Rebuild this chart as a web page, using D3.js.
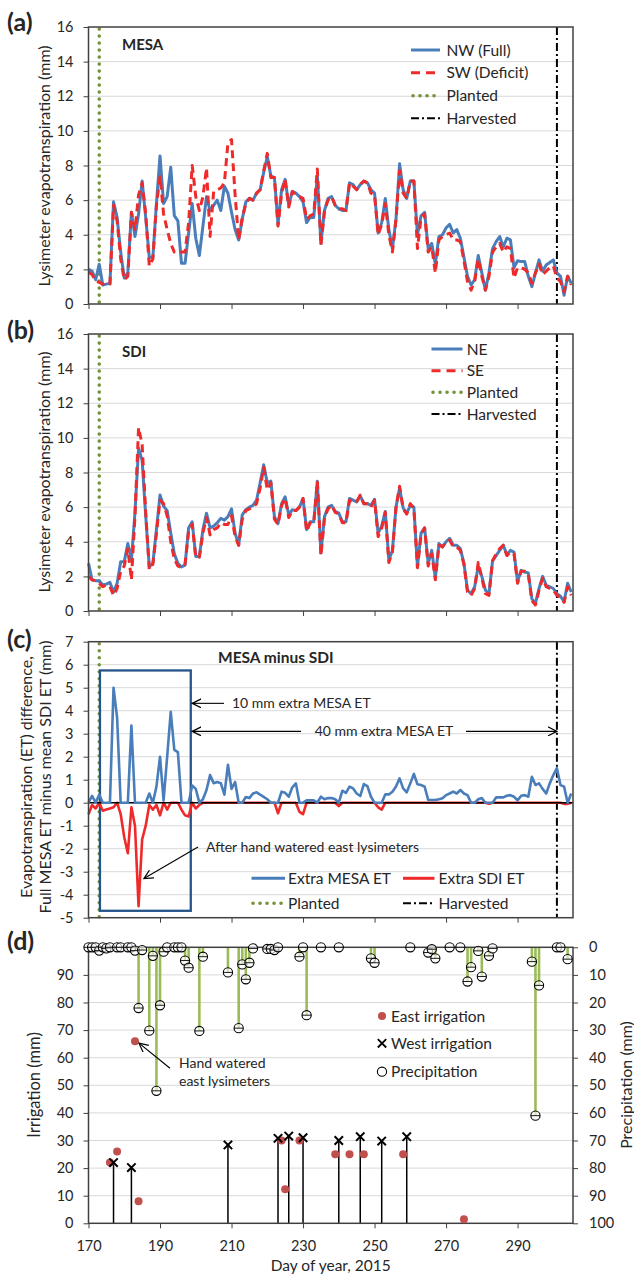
<!DOCTYPE html>
<html>
<head>
<meta charset="utf-8">
<script src="https://cdn.jsdelivr.net/npm/d3@7"></script>
<style>
  body { margin: 0; background: #fff; }
  svg text { font-family: Lato, "Open Sans", sans-serif; fill: #262626; }
</style>
</head>
<body>
<svg id="chart" width="634" height="1274"></svg>
<script>
// day of year, 2015 (one value per day)
const days = d3.range(170, 306);

// (a) MESA lysimeters
const nwFull = [2.0,1.9,1.4,2.3,1.1,1.15,1.2,5.9,5.0,3.0,1.5,1.8,5.3,3.9,5.2,7.1,5.0,2.7,2.7,5.8,
  8.55,5.8,6.2,7.9,5.1,4.8,2.35,2.35,4.1,5.8,3.8,2.8,4.5,6.2,5.4,5.7,6.0,5.4,6.8,6.4,
  5.3,4.3,3.7,4.9,5.9,6.1,6.0,6.4,6.6,7.6,8.5,7.4,7.3,4.6,6.6,7.2,5.7,6.5,6.4,6.2,
  5.9,4.7,5.0,5.0,7.4,3.5,5.4,6.1,6.2,5.7,5.5,5.4,5.4,7.0,6.9,6.6,6.9,7.1,7.0,6.6,
  6.4,4.1,4.7,6.1,4.3,3.2,4.9,8.1,6.6,6.1,7.1,7.1,4.0,5.1,5.3,3.2,3.5,2.3,3.9,4.0,
  4.4,4.6,4.1,4.3,3.8,2.7,1.6,1.1,1.4,2.8,1.8,0.8,1.8,3.2,3.6,3.9,3.3,3.8,3.7,2.1,
  2.5,2.45,2.45,1.6,1.0,1.8,2.55,1.9,2.25,2.4,2.55,1.8,1.6,0.5,1.6,1.2];
const swDeficit = [1.85,1.7,1.35,1.25,1.15,1.1,1.15,5.7,4.8,2.6,1.4,1.6,5.3,4.3,6.3,7.0,5.2,2.2,2.6,5.7,
  7.35,5.2,4.3,3.5,3.0,3.0,3.0,3.0,4.7,8.0,6.2,5.4,6.2,7.85,3.9,6.5,6.6,6.7,7.0,9.3,
  9.5,6.3,3.7,5.0,5.8,6.1,6.0,6.4,6.6,7.7,8.7,7.3,7.3,4.5,6.4,7.2,5.6,6.5,6.3,6.2,
  6.1,4.9,5.1,5.2,7.8,3.4,5.4,6.0,6.2,5.7,5.5,5.5,5.4,7.0,6.8,6.6,6.9,7.1,7.0,6.4,
  6.3,4.0,4.6,5.8,4.0,3.0,4.9,7.7,6.4,6.1,7.1,7.1,3.2,5.0,5.2,3.0,3.3,1.8,3.7,3.9,
  4.0,4.1,3.7,3.7,3.6,2.5,1.3,0.8,1.3,2.6,1.6,0.8,1.6,3.0,3.3,3.5,3.0,3.3,3.2,1.5,
  2.1,2.1,2.0,1.8,1.2,1.8,2.3,1.7,1.9,2.1,2.2,1.5,1.3,0.7,1.6,1.1];

// (b) SDI lysimeters
const neSdi = [2.75,1.8,1.75,1.75,1.5,1.55,1.65,1.1,1.6,2.85,2.85,3.9,2.95,5.7,9.4,8.7,5.5,2.55,2.75,4.7,
  6.7,6.05,5.8,4.5,3.3,2.75,2.55,2.65,4.8,5.15,3.15,3.15,4.7,5.65,4.8,4.9,5.1,5.35,5.25,5.45,
  5.9,4.5,3.8,5.55,5.85,6.0,6.1,6.4,7.4,8.45,7.4,7.5,5.45,5.05,6.2,6.6,5.55,5.85,5.8,6.0,
  6.5,4.7,5.15,5.15,7.5,3.35,5.45,6.0,6.1,5.75,5.65,5.15,5.15,6.5,6.4,6.3,6.65,6.2,6.2,6.1,
  6.45,4.5,4.9,5.75,2.95,3.5,6.0,7.1,5.95,5.65,6.1,6.0,2.55,4.5,4.8,2.75,3.5,1.9,3.9,3.7,
  4.0,4.2,3.8,3.8,3.6,2.75,1.2,1.0,1.4,2.6,2.0,1.2,1.0,2.9,3.2,3.5,3.8,3.25,3.5,3.4,
  1.7,2.35,2.25,2.2,0.7,0.45,1.3,2.0,1.5,1.4,1.3,1.0,0.85,0.55,1.6,1.1];
const seSdi = [2.0,1.8,1.75,1.6,1.4,1.5,1.4,0.9,1.3,2.3,2.6,3.6,1.8,5.5,10.6,9.6,5.7,2.4,2.7,4.5,
  6.4,6.2,5.5,4.0,3.0,2.6,2.5,2.7,4.6,5.0,3.1,3.1,4.5,5.4,4.4,4.7,4.8,5.1,5.0,5.0,
  5.5,4.3,3.8,5.3,5.8,5.9,6.0,6.2,7.1,8.3,7.0,7.4,5.3,5.0,6.1,6.5,5.4,5.8,5.8,6.0,
  6.5,4.6,5.1,5.1,7.5,3.2,5.4,5.9,6.1,5.7,5.6,5.1,5.1,6.4,6.3,6.3,6.7,6.2,6.2,6.0,
  6.4,4.3,4.8,5.7,2.8,3.4,6.0,7.2,5.9,5.6,6.2,5.9,2.5,4.4,4.8,2.6,3.3,1.8,3.8,3.7,
  4.0,4.1,3.7,3.7,3.5,2.7,1.1,0.9,1.3,2.8,1.9,1.0,0.9,2.9,3.3,3.6,3.8,3.2,3.4,3.3,
  1.6,2.3,2.3,2.1,0.6,0.35,1.2,1.9,1.4,1.3,1.2,0.9,0.8,0.5,1.4,0.9];

// (c) MESA minus SDI
const extraMesa = [0,0.3,0,0.35,0,0,0,5.0,3.7,0,0,0,3.35,0,0,0,0,0.4,0,0.7,
  2.0,0.1,2.0,3.95,2.3,2.2,0,0,0,0.75,0.6,0,0.15,0.55,1.2,0.85,0.9,0.85,0.35,1.65,
  0.6,0.9,0,0,0.25,0.2,0.4,0.45,0.35,0.25,0.15,0,0,0,0.48,0.43,0.26,0.67,0.84,0,
  0,0.1,0.1,0.1,0,0.26,0.15,0.2,0.2,0.15,0,0.52,0.43,0.7,0.62,0.4,0.29,0.81,0.72,0.26,
  0,0,0,0.36,0.36,0.48,0.7,1.06,0.62,0.45,0.84,1.25,0.8,0.77,0.7,0.12,0.12,0.12,0.15,0.19,
  0.33,0.4,0.48,0.4,0.55,0.4,0.33,0,0,0.15,0.2,0,0,0,0.23,0.23,0.23,0.3,0.33,0.26,
  0.1,0.3,0.33,0.26,1.13,0.77,0.84,0.6,0.4,0.84,1.2,1.5,0.77,0.7,0,0.4];
const extraSdi = [-0.5,-0.1,-0.25,0,-0.35,-0.3,-0.25,-0.2,0,-0.5,-1.5,-2.2,-0.2,-1.0,-4.5,-1.6,-1.0,-0.1,-0.3,-0.1,
  -0.55,0,-0.3,0,0,0,-0.3,-0.55,-0.6,0,-0.25,-0.1,0,0,0,0,0,0,0,0,
  0,0,0,0,0,0,0,0,0,0,0,0,0,-0.46,0,0,0,0,0,-0.4,
  -0.5,0,0,0,0,0,0,0,0,0,-0.15,0,0,0,0,0,0,0,0,0,
  0,-0.2,-0.3,0,0,0,0,0,0,0,0,0,0,0,0,0,0,0,0,0,
  0,0,0,0,0,0,0,0,0,0,0,0,-0.05,0,0,0,0,0,0,0,
  0,0,0,0,0,0,0,0,0,0,0,0,0,-0.05,-0.05,0];

// (d) precipitation (right axis) and irrigation (left axis)
const precipDays = [170,171,172,173,174,175,176,178,179,181,182,183,184,185,187,188,189,190,191,192,
  194,195,196,197,198,201,202,209,212,213,214,215,216,220,221,222,223,229,230,231,
  235,240,249,250,260,265,266,267,271,274,276,277,279,280,282,283,294,295,296,301,302,304];
const precipMm = [0,0,0,1.2,0,0.4,0,0,0,0,0,1.2,22,1.0,30.2,3.1,52,21,1.6,0,
  0,0,0,4.8,7.4,30.3,3.4,9.1,29.3,6.2,11.6,5.6,0.4,0.6,0.6,1.0,0,3.4,0,24.6,
  0,0,4.0,5.6,0,1.9,0.7,4.0,0,0,12.4,7.2,1.3,10.6,3.1,0.4,5.2,61,13.8,0,0,4.3];
const eastDays = [176,178,183,184,224,225,229,239,243,247,258,275];
const eastMm = [22,26,66,8,30,12.3,30,25,25,25,25,1.5];
const westDays = [177,182,209,223,226,230,240,246,252,259];
const westMm = [22,20.2,28.4,30.8,31.6,31,30,31.4,29.8,31.4];

const plantedDay = 173, harvestedDay = 301;

const BLUE = "#4a7ebb", RED = "#ee2a2a", OLIVE = "#77933c", LEAF = "#9bbb59",
      BRICK = "#c0504d", NAVY = "#24548a", AXIS = "#404040", GRID = "#d9d9d9";

const svg = d3.select("#chart");
const defs = svg.append("defs");
defs.append("marker").attr("id", "head")
  .attr("viewBox", "0 0 10 10").attr("refX", 9).attr("refY", 5)
  .attr("markerWidth", 10).attr("markerHeight", 10).attr("markerUnits", "userSpaceOnUse")
  .attr("orient", "auto-start-reverse")
  .append("path").attr("d", "M0,0.5 L9,5 L0,9.5")
  .attr("fill", "none").attr("stroke", "#000").attr("stroke-width", 1.2);

const x = d3.scaleLinear().domain([170, 305.5]).range([88.5, 573]);
const xl = x.range()[0], xr = x.range()[1];
const yA = d3.scaleLinear().domain([0, 16]).range([304, 27]);
const yB = d3.scaleLinear().domain([0, 16]).range([611, 334]);
const yC = d3.scaleLinear().domain([-5, 7]).range([917.7, 641.7]);
const yIrr = d3.scaleLinear().domain([0, 100]).range([1223.3, 947.3]);
const yPre = d3.scaleLinear().domain([0, 100]).range([947.3, 1223.3]);

function panel(y, ticks, gridTicks, showX) {
  const g = svg.append("g");
  g.selectAll(".grid").data(gridTicks).join("line")
    .attr("x1", xl).attr("x2", xr)
    .attr("y1", d => y(d)).attr("y2", d => y(d))
    .attr("stroke", GRID).attr("stroke-width", 1);
  g.append("g").attr("transform", `translate(${xl},0)`)
    .call(d3.axisLeft(y).tickValues(ticks).tickSize(5).tickPadding(10).tickFormat(d => String(d)))
    .call(a => a.select(".domain").remove())
    .call(a => a.selectAll("line").attr("stroke", AXIS))
    .call(a => a.selectAll("text").attr("font-size", 14.5).attr("font-family", null).attr("fill", "#262626"));
  g.append("g").attr("transform", `translate(0,${y.range()[0]})`)
    .call(d3.axisBottom(x).tickValues(d3.range(170, 291, 20)).tickSize(5).tickPadding(12)
      .tickFormat(d => showX ? String(d) : ""))
    .call(a => a.select(".domain").remove())
    .call(a => a.selectAll("line").attr("stroke", AXIS))
    .call(a => a.selectAll("text").attr("font-size", 14.5).attr("font-family", null).attr("fill", "#262626"));
  return g;
}

function frame(y) {
  svg.append("rect")
    .attr("x", xl).attr("y", d3.min(y.range()))
    .attr("width", xr - xl).attr("height", Math.abs(y.range()[0] - y.range()[1]))
    .attr("fill", "none").attr("stroke", AXIS).attr("stroke-width", 1.5);
}

function eventLines(y) {
  const [b, t] = [y.range()[0], y.range()[1]];
  svg.append("line").attr("x1", x(plantedDay)).attr("x2", x(plantedDay))
    .attr("y1", t + 2).attr("y2", b)
    .attr("stroke", OLIVE).attr("stroke-width", 3.6)
    .attr("stroke-dasharray", "0.1,6.9").attr("stroke-linecap", "round");
  svg.append("line").attr("x1", x(harvestedDay)).attr("x2", x(harvestedDay))
    .attr("y1", t).attr("y2", b)
    .attr("stroke", "#000").attr("stroke-width", 2).attr("stroke-dasharray", "8,3,2,3");
}

function series(values, y, color, width, dash) {
  const line = d3.line().x((d, i) => x(days[i])).y(d => y(d));
  svg.append("path").datum(values).attr("d", line)
    .attr("fill", "none").attr("stroke", color).attr("stroke-width", width)
    .attr("stroke-linejoin", "round")
    .attr("stroke-dasharray", dash || null);
}

function text(s, px, py, size, opts = {}) {
  const t = svg.append("text").attr("x", px).attr("y", py).attr("font-size", size).text(s);
  if (opts.bold) t.attr("font-weight", "bold");
  if (opts.anchor) t.attr("text-anchor", opts.anchor);
  if (opts.rotate) t.attr("transform", `rotate(-90,${px},${py})`);
  return t;
}

function legendRow(kind, x1, x2, yy, label, tx) {
  const l = svg.append("line").attr("x1", x1).attr("x2", x2).attr("y1", yy).attr("y2", yy);
  if (kind === "blue") l.attr("stroke", BLUE).attr("stroke-width", 3);
  if (kind === "red") l.attr("stroke", RED).attr("stroke-width", 3).attr("stroke-dasharray", "9,6");
  if (kind === "redsolid") l.attr("stroke", RED).attr("stroke-width", 3);
  if (kind === "planted") l.attr("stroke", OLIVE).attr("stroke-width", 3.6)
    .attr("stroke-dasharray", "0.1,6.9").attr("stroke-linecap", "round");
  if (kind === "harvested") l.attr("stroke", "#000").attr("stroke-width", 2).attr("stroke-dasharray", "8,3,2,3");
  text(label, tx, yy + 5.5, 15.5);
}

// ---------- (a) ----------
panel(yA, d3.range(0, 17, 2), d3.range(2, 16, 2), false);
eventLines(yA);
series(nwFull, yA, BLUE, 3);
series(swDeficit, yA, RED, 3, "8,5");
frame(yA);
text("(a)", 7, 31, 25, { bold: true });
text("MESA", 122, 50, 15, { bold: true });
text("Lysimeter evapotranspiration (mm)", 50, 166, 16, { anchor: "middle", rotate: true });
legendRow("blue", 411, 440, 50, "NW (Full)", 446.5);
legendRow("red", 411, 440, 72.7, "SW (Deficit)", 446.5);
legendRow("planted", 413, 440, 95.7, "Planted", 446.5);
legendRow("harvested", 411, 440, 118.3, "Harvested", 446.5);

// ---------- (b) ----------
panel(yB, d3.range(0, 17, 2), d3.range(2, 16, 2), false);
eventLines(yB);
series(neSdi, yB, BLUE, 3);
series(seSdi, yB, RED, 3, "8,5");
frame(yB);
text("(b)", 7, 339, 25, { bold: true });
text("SDI", 122, 357, 15, { bold: true });
text("Lysimeter evapotranspiration (mm)", 50, 472, 16, { anchor: "middle", rotate: true });
legendRow("blue", 431.5, 462.5, 349, "NE", 466.7);
legendRow("red", 431.5, 462.5, 370.7, "SE", 466.7);
legendRow("planted", 433, 462.5, 392.3, "Planted", 466.7);
legendRow("harvested", 431.5, 462.5, 414, "Harvested", 466.7);

// ---------- (c) ----------
panel(yC, d3.range(-5, 8, 1), d3.range(-4, 7, 1), false);
eventLines(yC);
svg.append("rect")
  .attr("x", x(173.2)).attr("y", yC(5.75))
  .attr("width", x(198.6) - x(173.2)).attr("height", yC(-4.7) - yC(5.75))
  .attr("fill", "none").attr("stroke", NAVY).attr("stroke-width", 2.3);
series(extraSdi, yC, RED, 2.6);
svg.append("line").attr("x1", xl).attr("x2", xr).attr("y1", yC(0)).attr("y2", yC(0))
  .attr("stroke", "#000").attr("stroke-width", 1.6);
series(extraMesa, yC, BLUE, 2.6);
frame(yC);
text("(c)", 7, 648, 25, { bold: true });
text("MESA minus SDI", 218, 663, 15.5, { bold: true });
text("Evapotranspiration (ET) difference,", 31.5, 777, 16, { anchor: "middle", rotate: true });
text("Full MESA ET minus mean SDI ET (mm)", 51, 777, 16, { anchor: "middle", rotate: true });
// arrows
svg.append("line").attr("x1", 224).attr("y1", yC(4.32)).attr("x2", x(198.6) + 1.5).attr("y2", yC(4.32))
  .attr("stroke", "#000").attr("stroke-width", 1.1).attr("marker-end", "url(#head)");
text("10 mm extra MESA ET", 232, yC(4.32) + 5, 14);
svg.append("line").attr("x1", 301).attr("y1", yC(3.1)).attr("x2", x(198.6) + 1.5).attr("y2", yC(3.1))
  .attr("stroke", "#000").attr("stroke-width", 1.1).attr("marker-end", "url(#head)");
svg.append("line").attr("x1", 466).attr("y1", yC(3.1)).attr("x2", x(harvestedDay)).attr("y2", yC(3.1))
  .attr("stroke", "#000").attr("stroke-width", 1.1).attr("marker-end", "url(#head)");
text("40 mm extra MESA ET", 384, yC(3.1) + 5, 14, { anchor: "middle" });
svg.append("line").attr("x1", 198).attr("y1", yC(-1.93)).attr("x2", x(185.5)).attr("y2", yC(-3.3))
  .attr("stroke", "#000").attr("stroke-width", 1.1).attr("marker-end", "url(#head)");
text("After hand watered east lysimeters", 206, yC(-1.93) + 5, 14);
legendRow("blue", 251.5, 285, 878.3, "Extra MESA ET", 288);
legendRow("redsolid", 403, 434.5, 878.3, "Extra SDI ET", 438.5);
legendRow("planted", 253, 282, 903.3, "Planted", 288);
legendRow("harvested", 403, 432.5, 903.3, "Harvested", 438.5);

// ---------- (d) ----------
panel(yIrr, d3.range(0, 91, 10), d3.range(10, 100, 10), true);
svg.append("g").attr("transform", `translate(${xr},0)`)
  .call(d3.axisRight(yPre).tickValues(d3.range(0, 101, 10)).tickSize(5).tickPadding(11).tickFormat(d => String(d)))
  .call(a => a.select(".domain").remove())
  .call(a => a.selectAll("line").attr("stroke", AXIS))
  .call(a => a.selectAll("text").attr("font-size", 14.5).attr("font-family", null).attr("fill", "#262626"));

// precipitation drops and markers
const pre = precipDays.map((d, i) => ({ d, v: precipMm[i] }));
svg.append("g").selectAll("line").data(pre.filter(p => p.v > 0)).join("line")
  .attr("x1", p => x(p.d)).attr("x2", p => x(p.d))
  .attr("y1", yPre(0)).attr("y2", p => yPre(p.v))
  .attr("stroke", LEAF).attr("stroke-width", 2.6);
// west irrigation drops
const west = westDays.map((d, i) => ({ d, v: westMm[i] }));
svg.append("g").selectAll("line").data(west).join("line")
  .attr("x1", p => x(p.d)).attr("x2", p => x(p.d))
  .attr("y1", yIrr(0)).attr("y2", p => yIrr(p.v))
  .attr("stroke", "#000").attr("stroke-width", 1.5);
frame(yIrr);
const pg = svg.append("g").selectAll("g").data(pre).join("g")
  .attr("transform", p => `translate(${x(p.d)},${yPre(p.v)})`);
pg.append("circle").attr("r", 4.6).attr("fill", "#fff").attr("fill-opacity", 0.6)
  .attr("stroke", "#000").attr("stroke-width", 1.1);
pg.append("line").attr("x1", -4.6).attr("x2", 4.6).attr("stroke", "#000").attr("stroke-width", 0.9);
// east irrigation dots
const east = eastDays.map((d, i) => ({ d, v: eastMm[i] }));
svg.append("g").selectAll("circle").data(east).join("circle")
  .attr("cx", p => x(p.d)).attr("cy", p => yIrr(p.v)).attr("r", 4)
  .attr("fill", BRICK);
// west crosses
svg.append("g").selectAll("path").data(west).join("path")
  .attr("d", p => { const cx = x(p.d), cy = yIrr(p.v), s = 4.2;
    return `M${cx - s},${cy - s}L${cx + s},${cy + s}M${cx - s},${cy + s}L${cx + s},${cy - s}`; })
  .attr("stroke", "#000").attr("stroke-width", 2);

text("(d)", 7, 950, 25, { bold: true });
text("Irrigation (mm)", 40, 1085, 16.5, { anchor: "middle", rotate: true });
text("Precipitation (mm)", 632, 1085, 16, { anchor: "middle", rotate: true });
text("Day of year, 2015", (xl + xr) / 2, 1271, 15.5, { anchor: "middle" });

// hand-watered annotation
svg.append("line").attr("x1", 170).attr("y1", 1068.3).attr("x2", x(183) + 4).attr("y2", yIrr(66) + 2)
  .attr("stroke", "#000").attr("stroke-width", 1.2).attr("marker-end", "url(#head)");
text("Hand watered", 179, 1068, 14);
text("east lysimeters", 179, 1085.5, 14);

// legend (d)
svg.append("circle").attr("cx", 382).attr("cy", 1016).attr("r", 4).attr("fill", BRICK);
text("East irrigation", 391, 1021.5, 15.5);
svg.append("path").attr("d", "M377.8,1039.1L386.2,1047.5M377.8,1047.5L386.2,1039.1")
  .attr("stroke", "#000").attr("stroke-width", 1.8);
text("West irrigation", 391, 1049, 15.5);
svg.append("circle").attr("cx", 382).attr("cy", 1071.7).attr("r", 4.6)
  .attr("fill", "none").attr("stroke", "#000").attr("stroke-width", 1.1);
text("Precipitation", 391, 1077.2, 15.5);
</script>
</body>
</html>
